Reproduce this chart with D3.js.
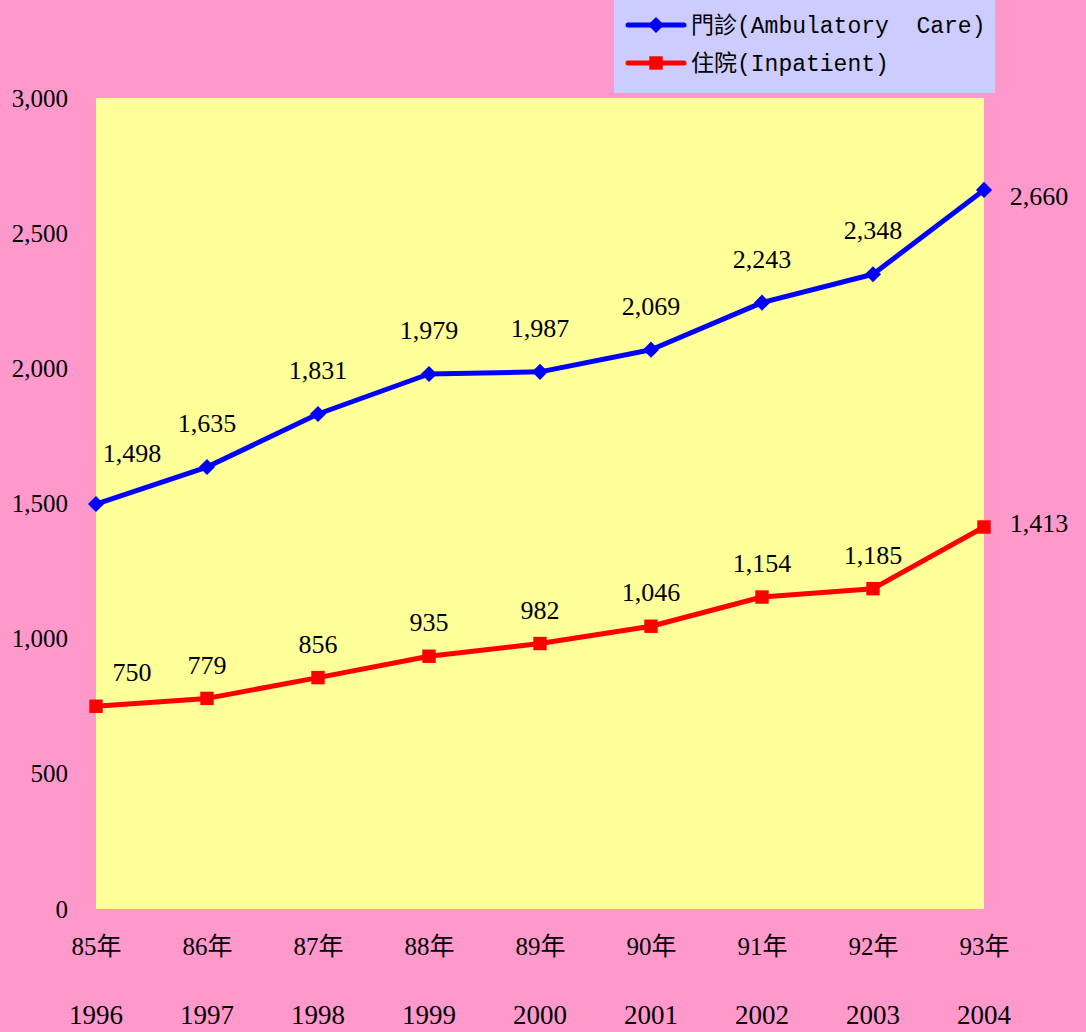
<!DOCTYPE html>
<html>
<head>
<meta charset="utf-8">
<script src="https://cdn.jsdelivr.net/npm/d3@7"></script>
<style>
  body { margin: 0; background: #FF99CC; }
  svg { display: block; }
  text { fill: #000; }
</style>
</head>
<body>
<svg width="1086" height="1032"></svg>
<script>
// chart data
var rocYears = ["85年", "86年", "87年", "88年", "89年", "90年", "91年", "92年", "93年"];
var adYears = ["1996", "1997", "1998", "1999", "2000", "2001", "2002", "2003", "2004"];
var ambulatory = [1498, 1635, 1831, 1979, 1987, 2069, 2243, 2348, 2660];
var inpatient = [750, 779, 856, 935, 982, 1046, 1154, 1185, 1413];
var yTicks = [0, 500, 1000, 1500, 2000, 2500, 3000];
var seriesNames = ["門診(Ambulatory  Care)", "住院(Inpatient)"];

var svg = d3.select("svg");
var margin = {top: 98, right: 102, bottom: 123, left: 96};
var width = +svg.attr("width") - margin.left - margin.right;
var height = +svg.attr("height") - margin.top - margin.bottom;

var serif = "'Liberation Serif', 'Times New Roman', serif";
var cjk = "'Liberation Serif', 'Noto Sans CJK TC', serif";
var mono = "'Liberation Mono', 'Noto Sans CJK TC', monospace";

svg.append("rect")
  .attr("width", 1086).attr("height", 1032)
  .attr("fill", "#FF99CC");

var g = svg.append("g")
  .attr("transform", "translate(" + margin.left + "," + margin.top + ")");

var x = d3.scalePoint().domain(d3.range(rocYears.length)).range([0, width]);
var y = d3.scaleLinear().domain([0, 3000]).range([height, 0]);

// plot area
g.append("rect")
  .attr("width", width).attr("height", height)
  .attr("fill", "#FFFF99");

// y axis labels
var yAxis = g.append("g")
  .call(d3.axisLeft(y).tickValues(yTicks).tickSize(0).tickPadding(28).tickFormat(d3.format(",")));
yAxis.select(".domain").remove();
yAxis.selectAll("text")
  .style("font-family", serif)
  .style("font-size", "25px")
  .attr("fill", "#000");

// x axis labels (two rows)
var xAxis = g.append("g")
  .attr("transform", "translate(0," + height + ")")
  .call(d3.axisBottom(x).tickSize(0).tickPadding(28).tickFormat(function(i) { return rocYears[i]; }));
xAxis.select(".domain").remove();
xAxis.selectAll("text")
  .style("font-family", cjk)
  .style("font-size", "25px")
  .attr("fill", "#000");

g.selectAll(".adyear")
  .data(adYears)
  .enter().append("text")
    .attr("class", "adyear")
    .attr("x", function(d, i) { return x(i); })
    .attr("y", height + 106)
    .attr("dy", "0.35em")
    .attr("text-anchor", "middle")
    .style("font-family", serif)
    .style("font-size", "27px")
    .text(function(d) { return d; });

var line = d3.line()
  .x(function(d, i) { return x(i); })
  .y(function(d) { return y(d); });

// diamond = square turned 45 degrees
var series = [
  {name: seriesNames[0], values: ambulatory, color: "#0000FF", size: 130, rotate: 45, labelDy: -44, firstDy: -51, lastDy: 6},
  {name: seriesNames[1], values: inpatient, color: "#FF0000", size: 180, rotate: 0, labelDy: -34, firstDy: -34, lastDy: -4}
];

series.forEach(function(s) {
  g.append("path")
    .datum(s.values)
    .attr("fill", "none")
    .attr("stroke", s.color)
    .attr("stroke-width", 5)
    .attr("stroke-linejoin", "round")
    .attr("d", line);

  g.selectAll(null)
    .data(s.values)
    .enter().append("path")
      .attr("transform", function(d, i) { return "translate(" + x(i) + "," + y(d) + ") rotate(" + s.rotate + ")"; })
      .attr("d", d3.symbol().type(d3.symbolSquare).size(s.size))
      .attr("fill", s.color);

  var n = s.values.length;
  g.selectAll(null)
    .data(s.values)
    .enter().append("text")
      .attr("x", function(d, i) {
        if (i === 0) return x(i) + 36;
        if (i === n - 1) return x(i) + 55;
        return x(i);
      })
      .attr("y", function(d, i) {
        if (i === 0) return y(d) + s.firstDy;
        if (i === n - 1) return y(d) + s.lastDy;
        return y(d) + s.labelDy;
      })
      .attr("dy", "0.35em")
      .attr("text-anchor", "middle")
      .style("font-family", serif)
      .style("font-size", "26px")
      .text(function(d) { return d3.format(",")(d); });
});

// legend
var legend = svg.append("g").attr("transform", "translate(614,0)");
legend.append("rect")
  .attr("width", 381).attr("height", 93)
  .attr("fill", "#CCCCFF");

series.forEach(function(s, i) {
  var ly = 25 + i * 38;
  legend.append("line")
    .attr("x1", 14).attr("x2", 70)
    .attr("y1", ly).attr("y2", ly)
    .attr("stroke", s.color)
    .attr("stroke-width", 5)
    .attr("stroke-linecap", "round");
  legend.append("path")
    .attr("transform", "translate(42," + ly + ") rotate(" + s.rotate + ")")
    .attr("d", d3.symbol().type(d3.symbolSquare).size(s.size))
    .attr("fill", s.color);
  legend.append("text")
    .attr("x", 77)
    .attr("y", ly)
    .attr("dy", "0.35em")
    .attr("xml:space", "preserve")
    .style("white-space", "pre")
    .style("font-family", mono)
    .style("font-size", "23px")
    .text(s.name);
});
</script>
</body>
</html>
